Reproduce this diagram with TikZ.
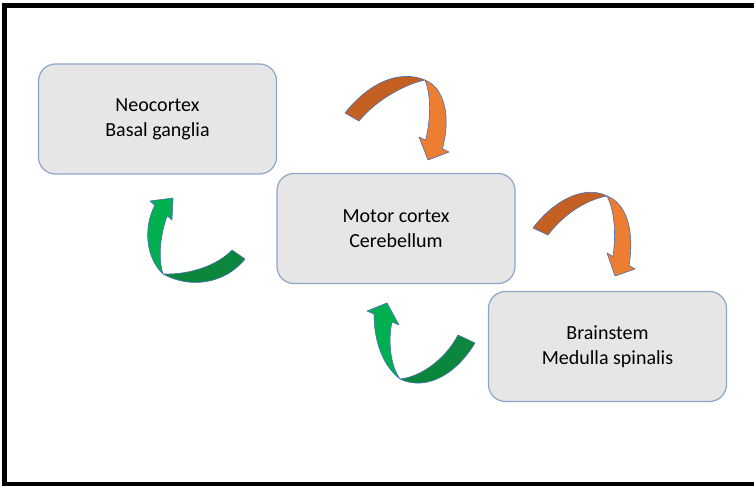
\documentclass[tikz,border=0pt]{standalone}
\usepackage{fontspec}
\setmainfont{Carlito}
\definecolor{boxfill}{RGB}{230,230,230}
\definecolor{boxline}{RGB}{140,165,200}
\definecolor{orgdark}{RGB}{197,96,35}
\definecolor{orglight}{RGB}{237,125,49}
\definecolor{grndark}{RGB}{10,135,60}
\definecolor{grnlight}{RGB}{0,176,80}
\definecolor{arrline}{RGB}{70,110,180}
\tikzset{
  stagebox/.style={draw=boxline, line width=1.2pt, fill=boxfill, rounded corners=17pt,
    minimum width=238pt, minimum height=110pt, align=center, font=\fontsize{20}{25}\selectfont, text=black},
  ribbon/.style={draw=arrline, line width=0.6pt, line join=round}
}
\begin{document}
\begin{tikzpicture}[x=1pt,y=-1pt]
\clip (0,0) rectangle (754,486);
\fill[white] (0,0) rectangle (754,486);
\draw[line width=5pt] (770,6) -- (4,6) -- (4,484) -- (770,484);

\node[stagebox] (neo) at (157.5,119) {Neocortex\\Basal ganglia};
\node[stagebox] (mot) at (396,228.5) {Motor cortex\\Cerebellum};
\node[stagebox] (bra) at (607.5,346.5) {Brainstem\\Medulla spinalis};

% orange arrow A (neo -> mot)
\filldraw[ribbon, fill=orgdark] (345,113) .. controls (368,84) and (398,69) .. (425,80)
  .. controls (406,84) and (377,99) .. (359,121) -- cycle;
\filldraw[ribbon, fill=orglight] (425,80) .. controls (445,88) and (451,118) .. (442.4,148.7)
  -- (449,152) -- (428,160) -- (419,137) -- (425.6,140.3)
  .. controls (431,118) and (431,95) .. (425,80) -- cycle;

% orange arrow C (mot -> bra)
\filldraw[ribbon, fill=orgdark] (533,228) .. controls (555,199) and (585,185) .. (607,196)
  .. controls (590,199) and (566,211) .. (548,235) -- cycle;
\filldraw[ribbon, fill=orglight] (607,196) .. controls (626,203) and (635,230) .. (629,265.5)
  -- (635,269) -- (615,276) -- (607,253) -- (613,256.5)
  .. controls (616,235) and (615,212) .. (607,196) -- cycle;

% green arrow B (mot -> neo)
\filldraw[ribbon, fill=grndark] (245,259) .. controls (225,284) and (190,289) .. (163,274)
  .. controls (190,275) and (218,265) .. (232,250) -- cycle;
\filldraw[ribbon, fill=grnlight] (163,274) .. controls (146,258) and (143,228) .. (154.8,205.2)
  -- (150,201) -- (173,198) -- (172,220) -- (167.2,215.8)
  .. controls (160,235) and (158,258) .. (163,274) -- cycle;

% green arrow D (bra -> mot)
\filldraw[ribbon, fill=grndark] (475,343) .. controls (455,376) and (425,391) .. (400,379)
  .. controls (420,377) and (445,360) .. (458,335) -- cycle;
\filldraw[ribbon, fill=grnlight] (400,379) .. controls (382,365) and (374,340) .. (374,314)
  -- (367,311) -- (387,303) -- (399,325) -- (392,322)
  .. controls (388,340) and (390,365) .. (400,379) -- cycle;
\end{tikzpicture}
\end{document}
